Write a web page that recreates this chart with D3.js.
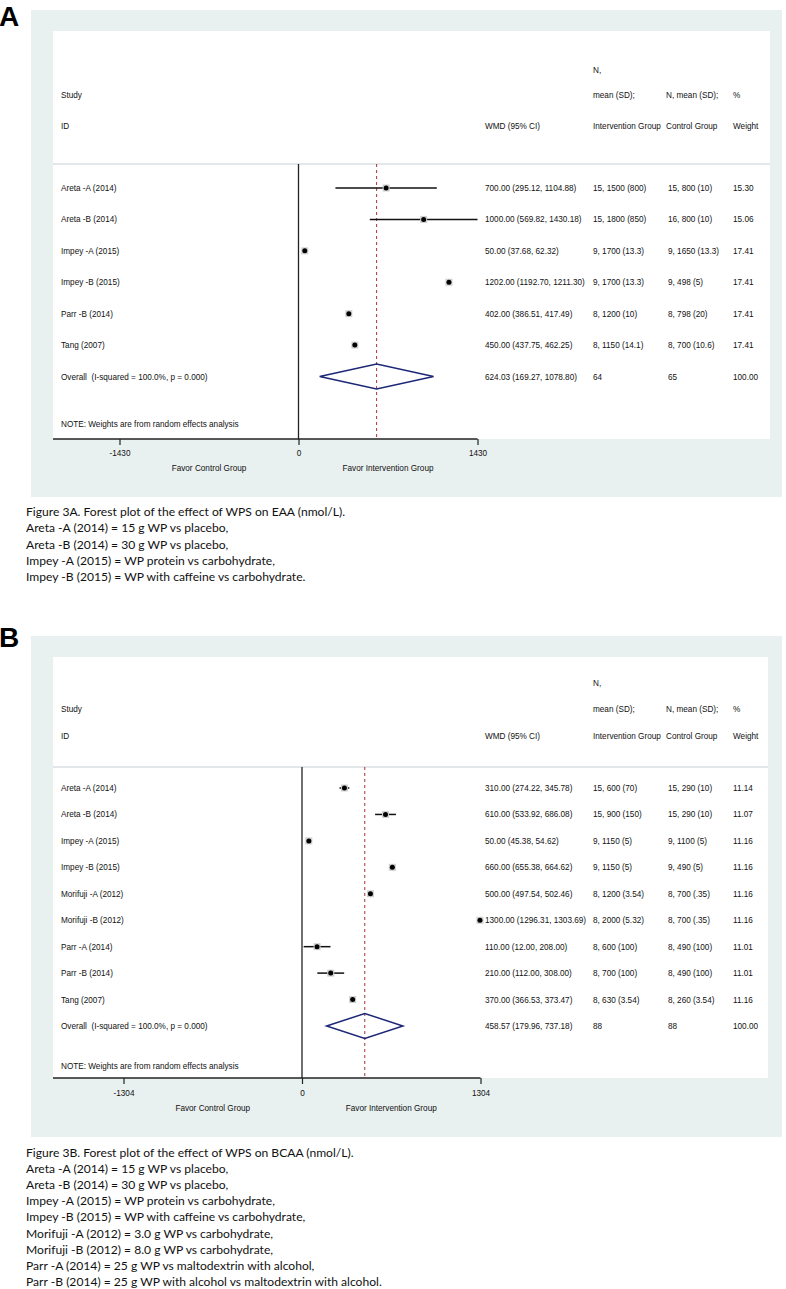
<!DOCTYPE html>
<html><head><meta charset="utf-8">
<script src="https://cdn.jsdelivr.net/npm/d3@7"></script>
<style>
html,body{margin:0;padding:0;background:#fff;}
svg{display:block;}
.t{font-family:"Liberation Sans",Arial,sans-serif;font-size:8.2px;fill:#111;white-space:pre;}
.cap{font-family:Lato,"Open Sans",sans-serif;font-size:12.1px;fill:#111;}
</style></head>
<body>
<svg id="c" width="786" height="1289"></svg>
<script>
// ---------- Panel A data (EAA) ----------
const studiesA = ["Areta -A (2014)","Areta -B (2014)","Impey -A (2015)","Impey -B (2015)","Parr -B (2014)","Tang (2007)"];
const wmdA  = [700.00, 1000.00, 50.00, 1202.00, 402.00, 450.00];
const lowA  = [295.12, 569.82, 37.68, 1192.70, 386.51, 437.75];
const highA = [1104.88, 1430.18, 62.32, 1211.30, 417.49, 462.25];
const intA  = ["15, 1500 (800)","15, 1800 (850)","9, 1700 (13.3)","9, 1700 (13.3)","8, 1200 (10)","8, 1150 (14.1)"];
const ctrlA = ["15, 800 (10)","16, 800 (10)","9, 1650 (13.3)","9, 498 (5)","8, 798 (20)","8, 700 (10.6)"];
const weightA = [15.30, 15.06, 17.41, 17.41, 17.41, 17.41];
const overallA = [624.03, 169.27, 1078.80];
const overallNA = ["64","65","100.00"];
const ticksA = [-1430, 0, 1430];
const captionA = ["Figure 3A. Forest plot of the effect of WPS on EAA (nmol/L).",
  "Areta -A (2014) = 15 g WP vs placebo,",
  "Areta -B (2014) = 30 g WP vs placebo,",
  "Impey -A (2015) = WP protein vs carbohydrate,",
  "Impey -B (2015) = WP with caffeine vs carbohydrate."];

// ---------- Panel B data (BCAA) ----------
const studiesB = ["Areta -A (2014)","Areta -B (2014)","Impey -A (2015)","Impey -B (2015)","Morifuji -A (2012)","Morifuji -B (2012)","Parr -A (2014)","Parr -B (2014)","Tang (2007)"];
const wmdB  = [310.00, 610.00, 50.00, 660.00, 500.00, 1300.00, 110.00, 210.00, 370.00];
const lowB  = [274.22, 533.92, 45.38, 655.38, 497.54, 1296.31, 12.00, 112.00, 366.53];
const highB = [345.78, 686.08, 54.62, 664.62, 502.46, 1303.69, 208.00, 308.00, 373.47];
const intB  = ["15, 600 (70)","15, 900 (150)","9, 1150 (5)","9, 1150 (5)","8, 1200 (3.54)","8, 2000 (5.32)","8, 600 (100)","8, 700 (100)","8, 630 (3.54)"];
const ctrlB = ["15, 290 (10)","15, 290 (10)","9, 1100 (5)","9, 490 (5)","8, 700 (.35)","8, 700 (.35)","8, 490 (100)","8, 490 (100)","8, 260 (3.54)"];
const weightB = [11.14, 11.07, 11.16, 11.16, 11.16, 11.16, 11.01, 11.01, 11.16];
const overallB = [458.57, 179.96, 737.18];
const overallNB = ["88","88","100.00"];
const ticksB = [-1304, 0, 1304];
const captionB = ["Figure 3B. Forest plot of the effect of WPS on BCAA (nmol/L).",
  "Areta -A (2014) = 15 g WP vs placebo,",
  "Areta -B (2014) = 30 g WP vs placebo,",
  "Impey -A (2015) = WP protein vs carbohydrate,",
  "Impey -B (2015) = WP with caffeine vs carbohydrate,",
  "Morifuji -A (2012) = 3.0 g WP vs carbohydrate,",
  "Morifuji -B (2012) = 8.0 g WP vs carbohydrate,",
  "Parr -A (2014) = 25 g WP vs maltodextrin with alcohol,",
  "Parr -B (2014) = 25 g WP with alcohol vs maltodextrin with alcohol."];

const headerLabels = {n:"N,", mean:"mean (SD);", nmean:"N, mean (SD);", pct:"%",
  study:"Study", id:"ID", wmd:"WMD (95% CI)", ig:"Intervention Group", cg:"Control Group", w:"Weight"};
const overallLabel = "Overall  (I-squared = 100.0%, p = 0.000)";
const noteLabel = "NOTE: Weights are from random effects analysis";
const favorLabels = ["Favor Control Group","Favor Intervention Group"];

const svg = d3.select("#c");

function panel(o){
  const g = svg.append("g");
  // frame
  g.append("rect").attr("x",31).attr("y",o.top).attr("width",751).attr("height",o.frameH).attr("fill","#e9f0f0");
  g.append("rect").attr("x",53).attr("y",o.top+21).attr("width",o.innerW).attr("height",o.axisY-(o.top+21)).attr("fill","#fff");
  // panel letter
  svg.append("text").attr("x",-1).attr("y",o.letterY).text(o.letter)
     .style("font-family","'Liberation Sans',Arial,sans-serif").style("font-weight","bold").style("font-size","28px").attr("fill","#000");

  const x = d3.scaleLinear().domain([o.ticks[0], o.ticks[2]]).range([o.x0 - o.half, o.x0 + o.half]);
  const n = o.studies.length;
  const y = d3.scaleLinear().domain([0, n]).range([o.row0, o.rowOverall]);
  const cols = {wmd:485, ig:593, cg:668, w:733};
  const tx = (xx,yy,s)=>g.append("text").attr("class","t").attr("x",xx).attr("y",yy+3).text(s);

  // header
  tx(cols.ig, o.h1, headerLabels.n);
  tx(61, o.h2, headerLabels.study);
  tx(cols.ig, o.h2, headerLabels.mean);
  tx(cols.cg-2, o.h2, headerLabels.nmean);
  tx(cols.w, o.h2, headerLabels.pct);
  tx(61, o.h3, headerLabels.id);
  tx(cols.wmd, o.h3, headerLabels.wmd);
  tx(cols.ig, o.h3, headerLabels.ig);
  tx(cols.cg-2, o.h3, headerLabels.cg);
  tx(cols.w, o.h3, headerLabels.w);
  g.append("line").attr("x1",53).attr("x2",53+o.innerW).attr("y1",o.sepY).attr("y2",o.sepY)
   .attr("stroke","#c5d2d6").attr("stroke-width",1.2);

  // reference lines
  g.append("line").attr("x1",x(0)).attr("x2",x(0)).attr("y1",o.sepY).attr("y2",o.axisY)
   .attr("stroke","#222").attr("stroke-width",1.3);
  g.append("line").attr("x1",x(o.overall[0])).attr("x2",x(o.overall[0])).attr("y1",o.sepY).attr("y2",o.axisY)
   .attr("stroke","#a8323a").attr("stroke-width",1).attr("stroke-dasharray","3,3");

  // study rows
  o.studies.forEach((s,i)=>{
    const yy = y(i);
    tx(61, yy, s);
    g.append("line").attr("x1",x(o.low[i])).attr("x2",x(o.high[i])).attr("y1",yy).attr("y2",yy)
     .attr("stroke","#111").attr("stroke-width",1.5);
    g.append("rect").attr("x",x(o.wmd[i])-3.5).attr("y",yy-3.5).attr("width",7).attr("height",7).attr("fill","#cfcfcf");
    g.append("circle").attr("cx",x(o.wmd[i])).attr("cy",yy).attr("r",2.5).attr("fill","#000");
    tx(cols.wmd, yy, `${o.wmd[i].toFixed(2)} (${o.low[i].toFixed(2)}, ${o.high[i].toFixed(2)})`);
    tx(cols.ig, yy, o.ig[i]);
    tx(cols.cg, yy, o.cg[i]);
    tx(cols.w, yy, o.weight[i].toFixed(2));
  });
  // overall
  const yo = y(n);
  tx(61, yo, overallLabel);
  const [e,lo,hi] = o.overall;
  g.append("path").attr("d",`M${x(lo)},${yo} L${x(e)},${yo-12.5} L${x(hi)},${yo} L${x(e)},${yo+12.5} Z`)
   .attr("fill","none").attr("stroke","#1c2777").attr("stroke-width",1.5);
  tx(cols.wmd, yo, `${e.toFixed(2)} (${lo.toFixed(2)}, ${hi.toFixed(2)})`);
  tx(cols.ig, yo, o.overallN[0]);
  tx(cols.cg, yo, o.overallN[1]);
  tx(cols.w, yo, o.overallN[2]);
  tx(61, o.noteY, noteLabel);

  // axis
  const ax = g.append("g").attr("transform",`translate(0,${o.axisY})`)
    .call(d3.axisBottom(x).tickValues(o.ticks).tickSize(6).tickPadding(5).tickFormat(d=>String(d)));
  ax.select(".domain").remove();
  ax.selectAll(".tick line").attr("stroke","#222").attr("stroke-width",1.2);
  ax.selectAll(".tick text").attr("class","t").attr("y",null).attr("dy",null)
    .attr("transform",`translate(0,${o.tickY-o.axisY+3})`).attr("fill","#111");
  g.append("line").attr("x1",53).attr("x2",x(o.ticks[2])).attr("y1",o.axisY).attr("y2",o.axisY)
   .attr("stroke","#222").attr("stroke-width",1.3);
  [o.ticks[0]/2, o.ticks[2]/2].forEach((v,k)=>{
    g.append("text").attr("class","t").attr("x",x(v)).attr("y",o.favY+3).attr("text-anchor","middle").text(favorLabels[k]);
  });

  // caption
  o.caption.forEach((c,k)=>{
    svg.append("text").attr("class","cap").attr("x",26).attr("y",o.cap0+k*16.2+4.5).text(c);
  });
}

panel({letter:"A", letterY:25.5, top:10, frameH:487, innerW:717, axisY:439,
  x0:298.5, half:179, ticks:ticksA,
  studies:studiesA, wmd:wmdA, low:lowA, high:highA, ig:intA, cg:ctrlA, weight:weightA,
  overall:overallA, overallN:overallNA,
  h1:70, h2:95, h3:126, sepY:164, row0:188, rowOverall:376.5, noteY:424,
  tickY:453, favY:468, caption:captionA, cap0:511.7});

panel({letter:"B", letterY:647, top:636, frameH:501, innerW:715, axisY:1078,
  x0:302, half:178.5, ticks:ticksB,
  studies:studiesB, wmd:wmdB, low:lowB, high:highB, ig:intB, cg:ctrlB, weight:weightB,
  overall:overallB, overallN:overallNB,
  h1:683, h2:709, h3:736, sepY:767, row0:788, rowOverall:1026, noteY:1066,
  tickY:1093, favY:1108, caption:captionB, cap0:1152});
</script>
</body></html>
